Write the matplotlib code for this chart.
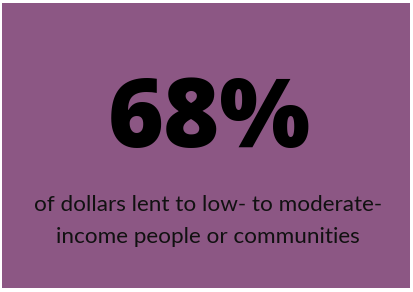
import matplotlib
matplotlib.use("Agg")
import matplotlib.pyplot as plt
from matplotlib.patches import Rectangle

value_label = "68%"
caption_lines = ["of dollars lent to low- to moderate-", "income people or communities"]

W, H = 414, 292
fig = plt.figure(figsize=(W / 100, H / 100), dpi=100)
fig.patch.set_facecolor("white")
ax = fig.add_axes([0, 0, 1, 1])
ax.set_xlim(0, W)
ax.set_ylim(H, 0)
ax.axis("off")

ax.add_patch(Rectangle((2, 3), 408, 285, facecolor="#8C5784", edgecolor="none"))

ax.text(209, 147, value_label, ha="center", va="baseline", fontsize=69,
        fontweight=800, family=["Open Sans", "DejaVu Sans"], color="black")

ax.text(208, 205, caption_lines[0], ha="center", va="center", fontsize=16.2,
        family=["Lato", "DejaVu Sans"], color="#111111")
ax.text(208, 237, caption_lines[1], ha="center", va="center", fontsize=16.2,
        family=["Lato", "DejaVu Sans"], color="#111111")

fig.savefig("out.png", dpi=100, facecolor="white")
